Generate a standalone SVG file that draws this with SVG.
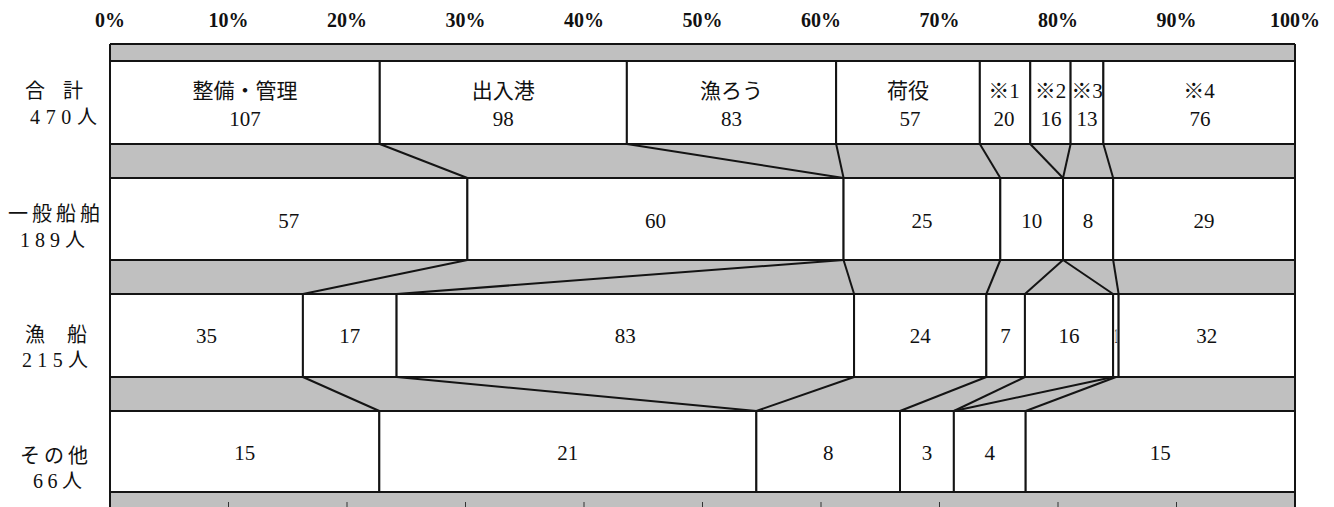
<svg xmlns="http://www.w3.org/2000/svg" width="1334" height="507" viewBox="0 0 1334 507">
<style>
.bg{fill:#ffffff}
.band{fill:#c0c0c0}
.cell{fill:#ffffff;stroke:#141414;stroke-width:2}
.ln{stroke:#141414;stroke-width:2;fill:none}
.tk{stroke:#333;stroke-width:1}
.ax{font-family:"Liberation Serif","Noto Sans CJK JP",serif;font-size:20px;font-weight:bold;fill:#111;text-anchor:middle}
.t{font-family:"Liberation Serif","Noto Sans CJK JP",serif;font-size:21px;fill:#111;text-anchor:middle}
.lb{font-family:"Liberation Serif","Noto Sans CJK JP",serif;font-size:20px;fill:#111}
</style>
<rect class="bg" x="0" y="0" width="1334" height="507"/>
<g id="axis">
<text class="ax" x="110" y="27">0%</text>
<text class="ax" x="228.5" y="27">10%</text>
<text class="ax" x="347" y="27">20%</text>
<text class="ax" x="465.5" y="27">30%</text>
<text class="ax" x="584" y="27">40%</text>
<text class="ax" x="702.5" y="27">50%</text>
<text class="ax" x="821" y="27">60%</text>
<text class="ax" x="939.5" y="27">70%</text>
<text class="ax" x="1058" y="27">80%</text>
<text class="ax" x="1176.5" y="27">90%</text>
<text class="ax" x="1295" y="27">100%</text>
</g>
<g id="frame">
<rect class="band" x="110" y="44" width="1185" height="470"/>
<line class="ln" x1="110" y1="44" x2="1295" y2="44"/>
<line class="ln" x1="110" y1="44" x2="110" y2="510"/>
<line class="ln" x1="1295" y1="44" x2="1295" y2="510"/>
<g class="tk">
<line x1="228.5" y1="502" x2="228.5" y2="507"/>
<line x1="347" y1="502" x2="347" y2="507"/>
<line x1="465.5" y1="502" x2="465.5" y2="507"/>
<line x1="584" y1="502" x2="584" y2="507"/>
<line x1="702.5" y1="502" x2="702.5" y2="507"/>
<line x1="821" y1="502" x2="821" y2="507"/>
<line x1="939.5" y1="502" x2="939.5" y2="507"/>
<line x1="1058" y1="502" x2="1058" y2="507"/>
<line x1="1176.5" y1="502" x2="1176.5" y2="507"/>
</g>
</g>
<g id="row-labels">
<text class="lb" x="25" y="98" textLength="58">合　計</text>
<text class="lb" x="30" y="124" textLength="67">470人</text>
<text class="lb" x="8" y="221" textLength="92">一般船舶</text>
<text class="lb" x="20" y="247" textLength="65">189人</text>
<text class="lb" x="25" y="342" textLength="62">漁　船</text>
<text class="lb" x="22" y="367" textLength="66">215人</text>
<text class="lb" x="20" y="463" textLength="68">その他</text>
<text class="lb" x="33" y="488" textLength="49">66人</text>
</g>
<g id="row-total">
<g id="t-seibi"><rect class="cell" x="110" y="61" width="269.78" height="83"/><text class="t" x="245" y="98">整備・管理</text><text class="t" x="245" y="126">107</text></g>
<g id="t-shutsunyu"><rect class="cell" x="379.78" y="61" width="247.08" height="83"/><text class="t" x="503.3" y="98">出入港</text><text class="t" x="503.3" y="126">98</text></g>
<g id="t-gyoro"><rect class="cell" x="626.86" y="61" width="209.27" height="83"/><text class="t" x="731.5" y="98">漁ろう</text><text class="t" x="731.5" y="126">83</text></g>
<g id="t-niyaku"><rect class="cell" x="836.13" y="61" width="143.71" height="83"/><text class="t" x="908" y="98">荷役</text><text class="t" x="910" y="126">57</text></g>
<g id="t-k1"><rect class="cell" x="979.84" y="61" width="50.43" height="83"/><text class="t" x="1004" y="98">※1</text><text class="t" x="1004" y="126">20</text></g>
<g id="t-k2"><rect class="cell" x="1030.27" y="61" width="40.34" height="83"/><text class="t" x="1050.5" y="98">※2</text><text class="t" x="1051" y="126">16</text></g>
<g id="t-k3"><rect class="cell" x="1070.61" y="61" width="32.77" height="83"/><text class="t" x="1087" y="98">※3</text><text class="t" x="1087" y="126">13</text></g>
<g id="t-k4"><rect class="cell" x="1103.38" y="61" width="191.62" height="83"/><text class="t" x="1199" y="98">※4</text><text class="t" x="1200" y="126">76</text></g>
</g>
<g id="row-general">
<g id="g-seibi"><rect class="cell" x="110" y="178" width="357.38" height="82"/><text class="t" x="288.7" y="228">57</text></g>
<g id="g-shutsunyu"><rect class="cell" x="467.38" y="178" width="376.19" height="82"/><text class="t" x="655.5" y="228">60</text></g>
<g id="g-niyaku"><rect class="cell" x="843.57" y="178" width="156.75" height="82"/><text class="t" x="922" y="228">25</text></g>
<g id="g-k1"><rect class="cell" x="1000.32" y="178" width="62.7" height="82"/><text class="t" x="1031.7" y="228">10</text></g>
<g id="g-k3"><rect class="cell" x="1063.02" y="178" width="50.15" height="82"/><text class="t" x="1088" y="228">8</text></g>
<g id="g-k4"><rect class="cell" x="1113.17" y="178" width="181.83" height="82"/><text class="t" x="1204" y="228">29</text></g>
</g>
<g id="row-fishing">
<g id="f-seibi"><rect class="cell" x="110" y="294" width="192.91" height="83"/><text class="t" x="206.5" y="343">35</text></g>
<g id="f-shutsunyu"><rect class="cell" x="302.91" y="294" width="93.69" height="83"/><text class="t" x="349.8" y="343">17</text></g>
<g id="f-gyoro"><rect class="cell" x="396.6" y="294" width="457.47" height="83"/><text class="t" x="625.3" y="343">83</text></g>
<g id="f-niyaku"><rect class="cell" x="854.07" y="294" width="132.28" height="83"/><text class="t" x="920.2" y="343">24</text></g>
<g id="f-k1"><rect class="cell" x="986.35" y="294" width="38.58" height="83"/><text class="t" x="1005.6" y="343">7</text></g>
<g id="f-k2"><rect class="cell" x="1024.93" y="294" width="88.19" height="83"/><text class="t" x="1069" y="343">16</text></g>
<g id="f-k3"><rect class="cell" x="1113.12" y="294" width="5.51" height="83"/><text class="t" x="1115.9" y="343" textLength="3" lengthAdjust="spacingAndGlyphs">1</text></g>
<g id="f-k4"><rect class="cell" x="1118.63" y="294" width="176.37" height="83"/><text class="t" x="1206.8" y="343">32</text></g>
</g>
<g id="row-other">
<g id="o-seibi"><rect class="cell" x="110" y="411" width="269.32" height="81"/><text class="t" x="244.7" y="460">15</text></g>
<g id="o-shutsunyu"><rect class="cell" x="379.32" y="411" width="377.04" height="81"/><text class="t" x="567.8" y="460">21</text></g>
<g id="o-niyaku"><rect class="cell" x="756.36" y="411" width="143.64" height="81"/><text class="t" x="828.2" y="460">8</text></g>
<g id="o-k1"><rect class="cell" x="900" y="411" width="53.86" height="81"/><text class="t" x="927" y="460">3</text></g>
<g id="o-k3"><rect class="cell" x="953.86" y="411" width="71.82" height="81"/><text class="t" x="989.8" y="460">4</text></g>
<g id="o-k4"><rect class="cell" x="1025.68" y="411" width="269.32" height="81"/><text class="t" x="1160.3" y="460">15</text></g>
</g>
<g id="connectors" class="ln">
<line x1="379.78" y1="144" x2="467.38" y2="178"/>
<line x1="626.86" y1="144" x2="843.57" y2="178"/>
<line x1="836.13" y1="144" x2="843.57" y2="178"/>
<line x1="979.84" y1="144" x2="1000.32" y2="178"/>
<line x1="1030.27" y1="144" x2="1063.02" y2="178"/>
<line x1="1070.61" y1="144" x2="1063.02" y2="178"/>
<line x1="1103.38" y1="144" x2="1113.17" y2="178"/>
<line x1="467.38" y1="260" x2="302.91" y2="294"/>
<line x1="843.57" y1="260" x2="396.6" y2="294"/>
<line x1="843.57" y1="260" x2="854.07" y2="294"/>
<line x1="1000.32" y1="260" x2="986.35" y2="294"/>
<line x1="1063.02" y1="260" x2="1024.93" y2="294"/>
<line x1="1063.02" y1="260" x2="1113.12" y2="294"/>
<line x1="1113.17" y1="260" x2="1118.63" y2="294"/>
<line x1="302.91" y1="377" x2="379.32" y2="411"/>
<line x1="396.6" y1="377" x2="756.36" y2="411"/>
<line x1="854.07" y1="377" x2="756.36" y2="411"/>
<line x1="986.35" y1="377" x2="900" y2="411"/>
<line x1="1024.93" y1="377" x2="953.86" y2="411"/>
<line x1="1113.12" y1="377" x2="953.86" y2="411"/>
<line x1="1116" y1="377" x2="1025.68" y2="411"/>
</g>
</svg>
